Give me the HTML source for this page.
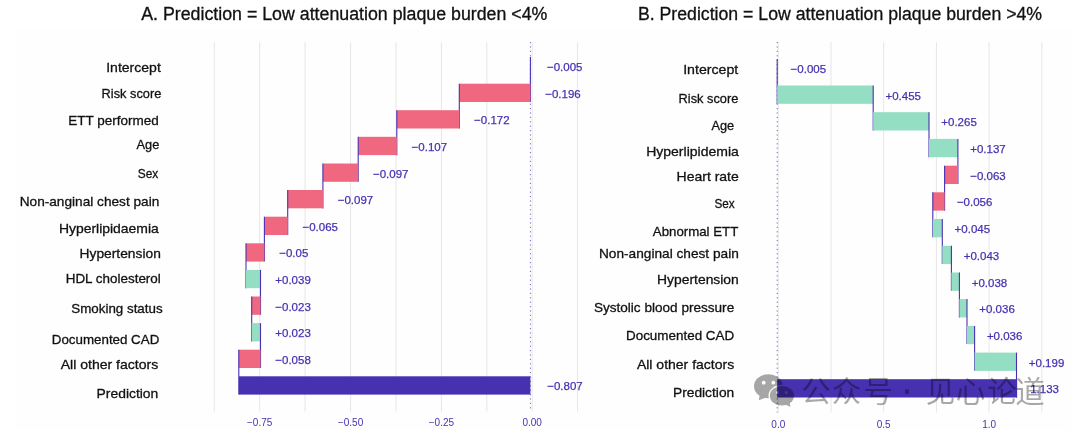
<!DOCTYPE html><html><head><meta charset="utf-8"><title>Break-down plots</title>
<style>html,body{margin:0;padding:0;background:#fff}body{width:1080px;height:435px;overflow:hidden}svg{display:block}.lab{font-family:"Liberation Sans",sans-serif;font-size:13.5px;fill:#111;stroke:#111;stroke-width:.3px}.ttl{font-family:"Liberation Sans",sans-serif;font-size:17.6px;fill:#111;stroke:#111;stroke-width:.3px}.val{font-family:"Liberation Sans",sans-serif;font-size:11.5px;fill:#4731b1;stroke:#4731b1;stroke-width:.25px}.ax{font-family:"Liberation Sans",sans-serif;font-size:10px;fill:#4731b1;text-anchor:middle}.wm{font-family:"Noto Sans CJK SC","WenQuanYi Zen Hei",sans-serif;font-size:29.5px;fill:#000;fill-opacity:.34;text-anchor:middle}</style></head><body>
<svg width="1080" height="435" viewBox="0 0 1080 435">
<rect width="1080" height="435" fill="#fff"/>
<rect x="16" y="28" width="1055" height="402" fill="#fefefe"/>
<line x1="214.3" y1="42.0" x2="214.3" y2="411.5" stroke="#e6e6e6" stroke-width="1"/>
<line x1="259.7" y1="42.0" x2="259.7" y2="411.5" stroke="#e6e6e6" stroke-width="1"/>
<line x1="305.1" y1="42.0" x2="305.1" y2="411.5" stroke="#e6e6e6" stroke-width="1"/>
<line x1="350.6" y1="42.0" x2="350.6" y2="411.5" stroke="#e6e6e6" stroke-width="1"/>
<line x1="396.0" y1="42.0" x2="396.0" y2="411.5" stroke="#e6e6e6" stroke-width="1"/>
<line x1="441.4" y1="42.0" x2="441.4" y2="411.5" stroke="#e6e6e6" stroke-width="1"/>
<line x1="486.8" y1="42.0" x2="486.8" y2="411.5" stroke="#e6e6e6" stroke-width="1"/>
<line x1="532.2" y1="42.0" x2="532.2" y2="411.5" stroke="#e6e6e6" stroke-width="1"/>
<line x1="577.6" y1="42.0" x2="577.6" y2="411.5" stroke="#e6e6e6" stroke-width="1"/>
<line x1="530.4" y1="42.0" x2="530.4" y2="411.5" stroke="#4731b1" stroke-width="1" stroke-dasharray="1.2 3.2" stroke-opacity=".75"/>
<line x1="530.4" y1="57.1" x2="530.4" y2="102.0" stroke="#4731b1" stroke-width="1.1"/>
<text class="val" x="547.0" y="71.1">−0.005</text>
<rect x="459.3" y="83.7" width="71.1" height="18.3" fill="#f0687f"/>
<line x1="459.3" y1="83.7" x2="459.3" y2="128.6" stroke="#4731b1" stroke-width="1.1"/>
<text class="val" x="545.2" y="97.7">−0.196</text>
<rect x="396.8" y="110.2" width="62.5" height="18.3" fill="#f0687f"/>
<line x1="396.8" y1="110.2" x2="396.8" y2="155.2" stroke="#4731b1" stroke-width="1.1"/>
<text class="val" x="474.1" y="124.3">−0.172</text>
<rect x="358.2" y="136.8" width="38.6" height="18.3" fill="#f0687f"/>
<line x1="358.2" y1="136.8" x2="358.2" y2="181.8" stroke="#4731b1" stroke-width="1.1"/>
<text class="val" x="411.6" y="150.9">−0.107</text>
<rect x="322.9" y="163.5" width="35.3" height="18.3" fill="#f0687f"/>
<line x1="322.9" y1="163.5" x2="322.9" y2="208.4" stroke="#4731b1" stroke-width="1.1"/>
<text class="val" x="373.0" y="177.5">−0.097</text>
<rect x="287.7" y="190.0" width="35.2" height="18.3" fill="#f0687f"/>
<line x1="287.7" y1="190.0" x2="287.7" y2="234.9" stroke="#4731b1" stroke-width="1.1"/>
<text class="val" x="337.7" y="204.1">−0.097</text>
<rect x="264.4" y="216.7" width="23.3" height="18.3" fill="#f0687f"/>
<line x1="264.4" y1="216.7" x2="264.4" y2="261.6" stroke="#4731b1" stroke-width="1.1"/>
<text class="val" x="302.5" y="230.7">−0.065</text>
<rect x="246.0" y="243.3" width="18.4" height="18.3" fill="#f0687f"/>
<line x1="246.0" y1="243.3" x2="246.0" y2="288.2" stroke="#4731b1" stroke-width="1.1"/>
<text class="val" x="279.2" y="257.3">−0.05</text>
<rect x="246.0" y="269.9" width="14.5" height="18.3" fill="#94dec4"/>
<line x1="260.5" y1="269.9" x2="260.5" y2="314.8" stroke="#4731b1" stroke-width="1.1"/>
<text class="val" x="275.3" y="283.9">+0.039</text>
<rect x="251.7" y="296.5" width="8.8" height="18.3" fill="#f0687f"/>
<line x1="251.7" y1="296.5" x2="251.7" y2="341.4" stroke="#4731b1" stroke-width="1.1"/>
<text class="val" x="275.3" y="310.5">−0.023</text>
<rect x="251.7" y="323.1" width="8.8" height="18.3" fill="#94dec4"/>
<line x1="260.5" y1="323.1" x2="260.5" y2="367.9" stroke="#4731b1" stroke-width="1.1"/>
<text class="val" x="275.3" y="337.1">+0.023</text>
<rect x="238.8" y="349.7" width="21.7" height="18.3" fill="#f0687f"/>
<line x1="238.8" y1="349.7" x2="238.8" y2="394.6" stroke="#4731b1" stroke-width="1.1"/>
<text class="val" x="275.3" y="363.7">−0.058</text>
<rect x="239.0" y="376.3" width="291.4" height="18.3" fill="#4731b1"/>
<text class="val" x="547.2" y="390.3">−0.807</text>
<text class="ax" x="259.7" y="425.8">−0.75</text>
<text class="ax" x="350.6" y="425.8">−0.50</text>
<text class="ax" x="441.4" y="425.8">−0.25</text>
<text class="ax" x="532.2" y="425.8">0.00</text>
<text class="lab" x="106.2" y="72.3" textLength="54.6" lengthAdjust="spacingAndGlyphs">Intercept</text>
<text class="lab" x="101.6" y="98.0" textLength="59.7" lengthAdjust="spacingAndGlyphs">Risk score</text>
<text class="lab" x="68.3" y="124.6" textLength="90.5" lengthAdjust="spacingAndGlyphs">ETT performed</text>
<text class="lab" x="136.5" y="149.1" textLength="22.8" lengthAdjust="spacingAndGlyphs">Age</text>
<text class="lab" x="137.8" y="177.8" textLength="20.5" lengthAdjust="spacingAndGlyphs">Sex</text>
<text class="lab" x="19.7" y="206.1" textLength="139.6" lengthAdjust="spacingAndGlyphs">Non-anginal chest pain</text>
<text class="lab" x="58.9" y="233.4" textLength="99.9" lengthAdjust="spacingAndGlyphs">Hyperlipidaemia</text>
<text class="lab" x="79.6" y="257.5" textLength="81.2" lengthAdjust="spacingAndGlyphs">Hypertension</text>
<text class="lab" x="65.7" y="283.4" textLength="95.1" lengthAdjust="spacingAndGlyphs">HDL cholesterol</text>
<text class="lab" x="71.3" y="313.2" textLength="91.3" lengthAdjust="spacingAndGlyphs">Smoking status</text>
<text class="lab" x="51.8" y="343.8" textLength="107.5" lengthAdjust="spacingAndGlyphs">Documented CAD</text>
<text class="lab" x="60.7" y="369.2" textLength="97.6" lengthAdjust="spacingAndGlyphs">All other factors</text>
<text class="lab" x="96.6" y="397.8" textLength="61.7" lengthAdjust="spacingAndGlyphs">Prediction</text>
<text class="ttl" x="141.2" y="19.8" textLength="406.2" lengthAdjust="spacingAndGlyphs">A. Prediction = Low attenuation plaque burden &lt;4%</text>
<line x1="778.3" y1="42.0" x2="778.3" y2="412.5" stroke="#e6e6e6" stroke-width="1"/>
<line x1="831.0" y1="42.0" x2="831.0" y2="412.5" stroke="#e6e6e6" stroke-width="1"/>
<line x1="883.7" y1="42.0" x2="883.7" y2="412.5" stroke="#e6e6e6" stroke-width="1"/>
<line x1="936.4" y1="42.0" x2="936.4" y2="412.5" stroke="#e6e6e6" stroke-width="1"/>
<line x1="989.1" y1="42.0" x2="989.1" y2="412.5" stroke="#e6e6e6" stroke-width="1"/>
<line x1="1041.8" y1="42.0" x2="1041.8" y2="412.5" stroke="#e6e6e6" stroke-width="1"/>
<line x1="777.2" y1="42.0" x2="777.2" y2="412.5" stroke="#4731b1" stroke-width="1" stroke-dasharray="1.2 3.2" stroke-opacity=".75"/>
<line x1="777.2" y1="58.9" x2="777.2" y2="103.9" stroke="#4731b1" stroke-width="1.1"/>
<text class="val" x="790.6" y="72.9">−0.005</text>
<rect x="777.2" y="85.5" width="95.9" height="18.3" fill="#94dec4"/>
<line x1="873.2" y1="85.5" x2="873.2" y2="130.6" stroke="#4731b1" stroke-width="1.1"/>
<text class="val" x="885.5" y="99.6">+0.455</text>
<rect x="873.2" y="112.2" width="55.9" height="18.3" fill="#94dec4"/>
<line x1="929.0" y1="112.2" x2="929.0" y2="157.2" stroke="#4731b1" stroke-width="1.1"/>
<text class="val" x="941.3" y="126.3">+0.265</text>
<rect x="929.0" y="138.9" width="28.9" height="18.3" fill="#94dec4"/>
<line x1="957.9" y1="138.9" x2="957.9" y2="183.9" stroke="#4731b1" stroke-width="1.1"/>
<text class="val" x="970.2" y="153.0">+0.137</text>
<rect x="944.6" y="165.7" width="13.3" height="18.3" fill="#f0687f"/>
<line x1="944.6" y1="165.7" x2="944.6" y2="210.7" stroke="#4731b1" stroke-width="1.1"/>
<text class="val" x="970.2" y="179.7">−0.063</text>
<rect x="932.8" y="192.3" width="11.8" height="18.3" fill="#f0687f"/>
<line x1="932.8" y1="192.3" x2="932.8" y2="237.3" stroke="#4731b1" stroke-width="1.1"/>
<text class="val" x="956.9" y="206.4">−0.056</text>
<rect x="932.8" y="219.0" width="9.5" height="18.3" fill="#94dec4"/>
<line x1="942.3" y1="219.0" x2="942.3" y2="264.0" stroke="#4731b1" stroke-width="1.1"/>
<text class="val" x="954.6" y="233.1">+0.045</text>
<rect x="942.3" y="245.8" width="9.1" height="18.3" fill="#94dec4"/>
<line x1="951.4" y1="245.8" x2="951.4" y2="290.8" stroke="#4731b1" stroke-width="1.1"/>
<text class="val" x="963.7" y="259.8">+0.043</text>
<rect x="951.4" y="272.5" width="8.0" height="18.3" fill="#94dec4"/>
<line x1="959.4" y1="272.5" x2="959.4" y2="317.4" stroke="#4731b1" stroke-width="1.1"/>
<text class="val" x="971.7" y="286.5">+0.038</text>
<rect x="959.4" y="299.1" width="7.6" height="18.3" fill="#94dec4"/>
<line x1="967.0" y1="299.1" x2="967.0" y2="344.1" stroke="#4731b1" stroke-width="1.1"/>
<text class="val" x="979.3" y="313.2">+0.036</text>
<rect x="967.0" y="325.9" width="7.6" height="18.3" fill="#94dec4"/>
<line x1="974.6" y1="325.9" x2="974.6" y2="370.8" stroke="#4731b1" stroke-width="1.1"/>
<text class="val" x="986.9" y="339.9">+0.036</text>
<rect x="974.6" y="352.6" width="41.9" height="18.3" fill="#94dec4"/>
<line x1="1016.5" y1="352.6" x2="1016.5" y2="397.5" stroke="#4731b1" stroke-width="1.1"/>
<text class="val" x="1028.8" y="366.6">+0.199</text>
<rect x="777.2" y="379.2" width="239.9" height="18.3" fill="#4731b1"/>
<text class="val" x="1030.2" y="393.3">1.133</text>
<text class="ax" x="778.3" y="428.0">0.0</text>
<text class="ax" x="883.7" y="428.0">0.5</text>
<text class="ax" x="989.1" y="428.0">1.0</text>
<text class="lab" x="683.2" y="74.0" textLength="55.1" lengthAdjust="spacingAndGlyphs">Intercept</text>
<text class="lab" x="678.6" y="103.1" textLength="59.7" lengthAdjust="spacingAndGlyphs">Risk score</text>
<text class="lab" x="711.5" y="130.4" textLength="22.7" lengthAdjust="spacingAndGlyphs">Age</text>
<text class="lab" x="646.2" y="156.2" textLength="92.6" lengthAdjust="spacingAndGlyphs">Hyperlipidemia</text>
<text class="lab" x="676.6" y="180.8" textLength="62.2" lengthAdjust="spacingAndGlyphs">Heart rate</text>
<text class="lab" x="714.5" y="207.6" textLength="20.2" lengthAdjust="spacingAndGlyphs">Sex</text>
<text class="lab" x="652.8" y="236.0" textLength="85.5" lengthAdjust="spacingAndGlyphs">Abnormal ETT</text>
<text class="lab" x="599.0" y="258.2" textLength="139.8" lengthAdjust="spacingAndGlyphs">Non-anginal chest pain</text>
<text class="lab" x="657.1" y="284.1" textLength="81.7" lengthAdjust="spacingAndGlyphs">Hypertension</text>
<text class="lab" x="593.9" y="311.9" textLength="140.3" lengthAdjust="spacingAndGlyphs">Systolic blood pressure</text>
<text class="lab" x="626.0" y="340.0" textLength="108.2" lengthAdjust="spacingAndGlyphs">Documented CAD</text>
<text class="lab" x="636.9" y="368.5" textLength="97.3" lengthAdjust="spacingAndGlyphs">All other factors</text>
<text class="lab" x="673.0" y="396.6" textLength="61.2" lengthAdjust="spacingAndGlyphs">Prediction</text>
<text class="ttl" x="637.9" y="19.8" textLength="404.2" lengthAdjust="spacingAndGlyphs">B. Prediction = Low attenuation plaque burden &gt;4%</text>
<defs><mask id="m1" maskUnits="userSpaceOnUse" x="740" y="360" width="70" height="60"><rect x="740" y="360" width="70" height="60" fill="#fff"/><ellipse cx="781.9" cy="395.8" rx="13.4" ry="11.1" fill="#000"/><circle cx="763.7" cy="382.7" r="1.9" fill="#000"/><circle cx="773.3" cy="382.7" r="1.9" fill="#000"/></mask><mask id="m2" maskUnits="userSpaceOnUse" x="740" y="360" width="70" height="60"><rect x="740" y="360" width="70" height="60" fill="#fff"/><circle cx="777.8" cy="392.6" r="1.5" fill="#000"/><circle cx="786.2" cy="392.6" r="1.5" fill="#000"/></mask></defs>
<g opacity=".34" fill="#000">
<g mask="url(#m1)"><ellipse cx="768.4" cy="386.3" rx="14.4" ry="12"/><path d="M759.8 394.5L758.8 400.2L766 397.4z"/></g>
<g mask="url(#m2)"><ellipse cx="781.9" cy="395.8" rx="12.1" ry="9.8"/><path d="M785.5 404.6L790.4 407.1L789.6 402.2z"/></g>
</g>
<text x="907" y="403.4" style="font-family:'Liberation Sans',sans-serif;font-size:42px;fill:#000;fill-opacity:.34;text-anchor:middle">·</text>
<text class="wm" x="816.1" y="401.7">公</text>
<text class="wm" x="846.5" y="401.7">众</text>
<text class="wm" x="878.3" y="401.7">号</text>
<text class="wm" x="940.4" y="401.7">见</text>
<text class="wm" x="970.4" y="401.7">心</text>
<text class="wm" x="1001.9" y="401.7">论</text>
<text class="wm" x="1030.0" y="401.7">道</text>
</svg></body></html>
